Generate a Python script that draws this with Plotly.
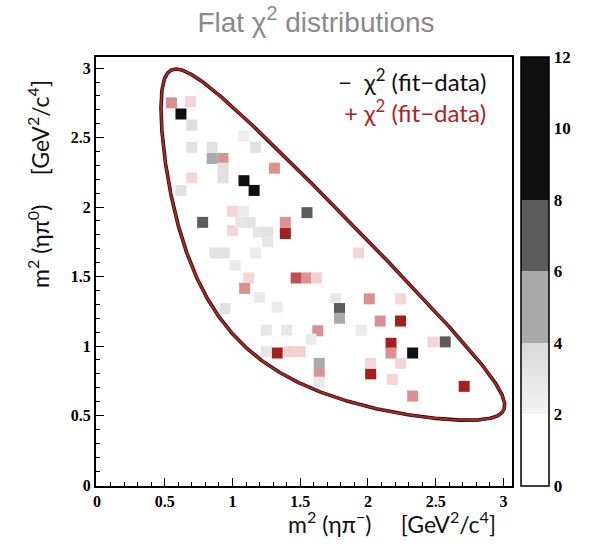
import numpy as np
import plotly.graph_objects as go

# --- chi^2 cells, negative contribution (fit < data): bin centres and chi^2 level
neg_x = [0.62, 0.70, 1.08, 1.17, 0.70, 0.85, 0.85, 0.93, 0.93, 1.085, 1.16, 0.62,
         1.55, 0.78, 1.08, 1.13, 1.06, 1.19, 1.26, 1.26, 0.87, 0.94, 1.17, 1.02,
         1.20, 0.945, 1.33, 1.76, 1.79, 1.79, 1.25, 1.40, 1.95, 1.58, 2.33, 2.57,
         1.25, 1.64, 1.64]
neg_y = [2.67, 2.59, 2.51, 2.43, 2.43, 2.43, 2.35, 2.28, 2.21, 2.19, 2.12, 2.12,
         1.96, 1.89, 1.97, 1.89, 1.89, 1.82, 1.82, 1.75, 1.67, 1.67, 1.67, 1.58,
         1.35, 1.27, 1.28, 1.34, 1.27, 1.20, 1.115, 1.115, 1.115, 1.05, 0.95, 1.03,
         0.96, 0.875, 0.74]
neg_v = [10.0, 3.6, 2.4, 3.4, 3.4, 3.4, 5.5, 3.4, 3.4, 9.5, 9.0, 3.4,
         6.5, 6.0, 2.6, 3.2, 3.0, 3.0, 3.2, 3.0, 3.2, 3.2, 2.6, 2.6,
         2.6, 3.4, 2.6, 2.8, 6.0, 5.5, 3.0, 3.0, 2.6, 2.6, 10.0, 7.5,
         3.0, 5.5, 2.6]

# --- chi^2 cells, positive contribution (fit > data)
pos_x = [0.55, 0.69, 0.93, 1.31, 0.70, 1.00, 1.00, 1.39, 1.39, 1.93, 1.47, 1.55,
         1.62, 1.12, 1.09, 2.01, 2.24, 2.09, 2.24, 1.63, 2.17, 2.17, 2.48, 1.33,
         1.42, 1.50, 1.64, 2.02, 2.02, 2.24, 2.71, 2.33, 2.18]
pos_y = [2.75, 2.76, 2.35, 2.28, 2.21, 1.97, 1.83, 1.89, 1.81, 1.67, 1.49, 1.49,
         1.49, 1.49, 1.415, 1.34, 1.34, 1.18, 1.18, 1.11, 1.02, 0.95, 1.03, 0.95,
         0.96, 0.96, 0.80, 0.80, 0.875, 0.875, 0.71, 0.64, 0.76]
pos_v = [4.5, 2.6, 4.0, 4.5, 2.6, 2.6, 2.6, 4.5, 10.0, 2.6, 7.0, 5.0,
         2.8, 2.6, 4.5, 4.5, 2.6, 4.5, 10.0, 4.5, 10.0, 4.0, 2.6, 10.0,
         2.8, 2.8, 4.0, 10.0, 2.6, 2.6, 10.0, 4.5, 2.6]

cb_ticks = [0, 2, 4, 6, 8, 10, 12]

# --- kinematic boundary of D- -> eta pi- pi0
M_D, M_ETA, M_PIM, M_PI0 = 1.86966, 0.54786, 0.13957, 0.13498


def dalitz_boundary(M, m1, m2, m3, n=400):
    lo, hi = (m1 + m2) ** 2, (M - m3) ** 2
    t = 0.5 - 0.5 * np.cos(np.linspace(0, np.pi, n))
    s12 = lo + (hi - lo) * t
    s12[0] += 1e-9
    s12[-1] -= 1e-9
    m12 = np.sqrt(s12)
    e1 = (s12 + m1 ** 2 - m2 ** 2) / (2 * m12)
    e3 = (M ** 2 - s12 - m3 ** 2) / (2 * m12)
    p1 = np.sqrt(np.clip(e1 ** 2 - m1 ** 2, 0, None))
    p3 = np.sqrt(np.clip(e3 ** 2 - m3 ** 2, 0, None))
    upper = (e1 + e3) ** 2 - (p1 - p3) ** 2
    lower = (e1 + e3) ** 2 - (p1 + p3) ** 2
    xs = np.concatenate([s12, s12[::-1], s12[:1]])
    ys = np.concatenate([upper, lower[::-1], upper[:1]])
    return xs, ys


bx, by = dalitz_boundary(M_D, M_ETA, M_PIM, M_PI0)

gray_scale = [
    [0.0, "#ffffff"], [2 / 12, "#ffffff"],
    [2 / 12, "#f3f3f3"], [4 / 12, "#d9d9d9"],
    [4 / 12, "#a9a9a9"], [6 / 12, "#a9a9a9"],
    [6 / 12, "#5c5c5c"], [8 / 12, "#5c5c5c"],
    [8 / 12, "#101010"], [1.0, "#101010"],
]
red_scale = [
    [0.0, "#ffffff"], [2 / 12, "#ffffff"],
    [2 / 12, "#f9e3e3"], [4 / 12, "#edb6b6"],
    [4 / 12, "#dc9090"], [6 / 12, "#dc9090"],
    [6 / 12, "#bc4f4f"], [8 / 12, "#bc4f4f"],
    [8 / 12, "#a3201e"], [1.0, "#a3201e"],
]

# plot-area geometry in pixels
W, H = 589, 546
L, R, T, B = 96, 512, 57, 486
pw = R - L
cb_x0 = (521 - L) / pw
cb_w = 28

serif_bold = dict(family="Liberation Serif", size=16, color="#000",
                  weight="bold")

fig = go.Figure()

fig.add_trace(go.Scatter(
    x=pos_x, y=pos_y, mode="markers", hoverinfo="skip", showlegend=False,
    marker=dict(symbol="square", size=11, color=pos_v, cmin=0, cmax=12,
                colorscale=red_scale, line=dict(width=0), showscale=False),
))
fig.add_trace(go.Scatter(
    x=neg_x, y=neg_y, mode="markers", hoverinfo="skip", showlegend=False,
    marker=dict(symbol="square", size=11, color=neg_v, cmin=0, cmax=12,
                colorscale=gray_scale, line=dict(width=0), showscale=True,
                colorbar=dict(
                    x=cb_x0, xanchor="left", y=0.5, yanchor="middle",
                    len=1.0, lenmode="fraction", thickness=cb_w,
                    xpad=0, ypad=0, outlinewidth=1.5, outlinecolor="#000",
                    tickvals=cb_ticks,
                    ticktext=[f"<b>{v}</b>" for v in cb_ticks],
                    ticks="", ticklabelposition="outside",
                    tickfont=dict(family="Liberation Serif", size=17,
                                  color="#000", weight="bold"),
                )),
))

# boundary: black outline under a red one
fig.add_trace(go.Scatter(x=bx, y=by, mode="lines", hoverinfo="skip",
                         showlegend=False,
                         line=dict(color="#111111", width=3.6)))
fig.add_trace(go.Scatter(x=bx, y=by, mode="lines", hoverinfo="skip",
                         showlegend=False,
                         line=dict(color="#b3211f", width=2.2)))

# separators between colour bands of the scale
cb_x1 = cb_x0 + cb_w / pw
for v in [2, 4, 6]:
    fig.add_shape(type="line", xref="paper", yref="paper",
                  x0=cb_x0, x1=cb_x1, y0=v / 12, y1=v / 12,
                  line=dict(color="#333", width=1))

axis_common = dict(
    showline=True, linecolor="#000", linewidth=2, mirror=True,
    ticks="inside", ticklen=8, tickwidth=1.2, tickcolor="#000",
    dtick=0.5, tick0=0, showgrid=False, zeroline=False,
    minor=dict(dtick=0.1, ticks="inside", ticklen=4, tickwidth=1,
               tickcolor="#000", showgrid=False),
    tickfont=serif_bold,
)

fig.update_layout(
    width=W, height=H,
    margin=dict(l=L, r=W - R, t=T, b=H - B, pad=0),
    paper_bgcolor="white", plot_bgcolor="white",
    xaxis=dict(range=[-0.007, 3.063], **axis_common),
    yaxis=dict(range=[-0.007, 3.08], **axis_common),
    title=dict(text="Flat χ<sup>2</sup> distributions",
               x=316 / W, xanchor="center", y=1 - 22 / H, yanchor="middle",
               font=dict(family="Liberation Sans", size=28, color="#8a8a8a")),
)

sans = "Lato"
annotations = [
    dict(text="−  χ<sup>2</sup> (fit−data)", x=488 / W, y=1 - 80 / H,
         xanchor="right", yanchor="middle",
         font=dict(family=sans, size=24, color="#111")),
    dict(text="+ χ<sup>2</sup> (fit−data)", x=488 / W, y=1 - 111 / H,
         xanchor="right", yanchor="middle",
         font=dict(family=sans, size=24, color="#b3211f")),
    dict(text="m<sup>2</sup> (ηπ<sup>−</sup>)     [GeV<sup>2</sup>/c<sup>4</sup>]",
         x=392 / W, y=1 - 522 / H, xanchor="center", yanchor="middle",
         font=dict(family=sans, size=23, color="#111")),
    dict(text="m<sup>2</sup> (ηπ<sup>0</sup>)     [GeV<sup>2</sup>/c<sup>4</sup>]",
         x=38 / W, y=1 - 184 / H, xanchor="center", yanchor="middle",
         textangle=-90, font=dict(family=sans, size=23, color="#111")),
]
for a in annotations:
    a.update(xref="paper", yref="paper", showarrow=False)
# convert figure-pixel positions into plot-area paper coordinates
for a in annotations:
    px = a["x"] * W
    py = (1 - a["y"]) * H
    a["x"] = (px - L) / pw
    a["y"] = (B - py) / (B - T)
fig.update_layout(annotations=annotations)

fig.write_html("out.html")
